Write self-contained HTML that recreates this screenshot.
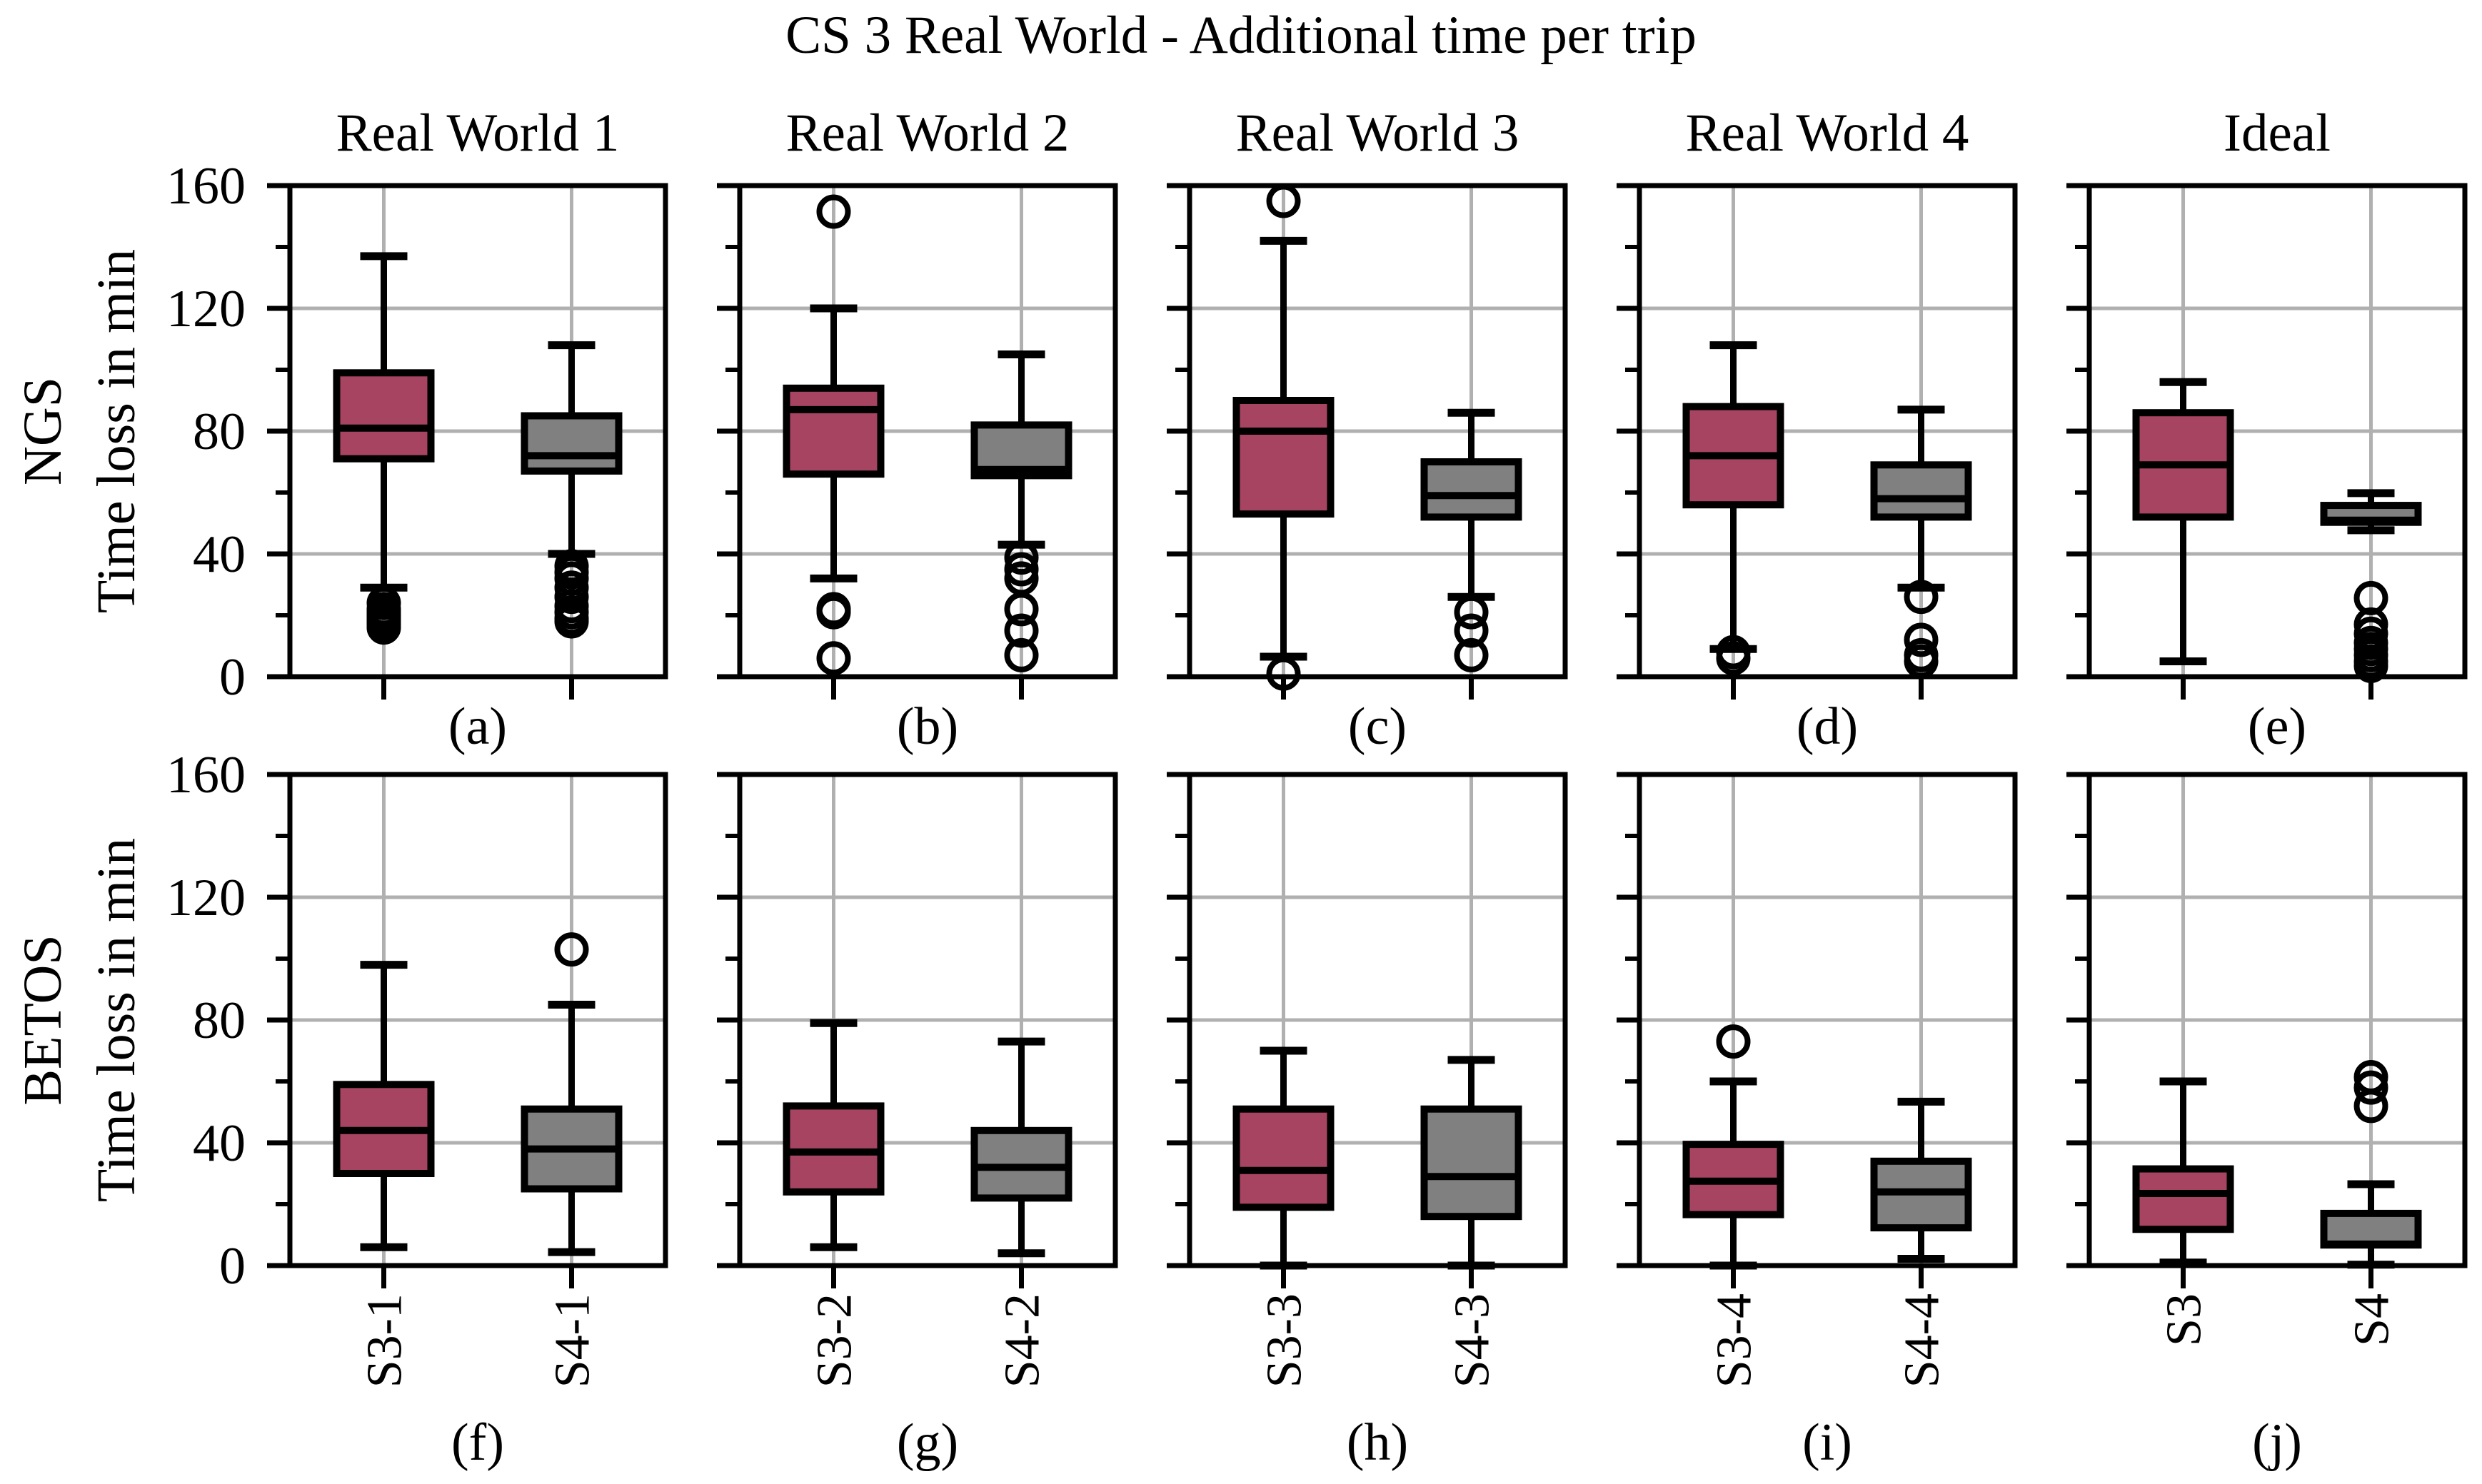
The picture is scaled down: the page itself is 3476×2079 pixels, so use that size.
<!DOCTYPE html>
<html><head><meta charset="utf-8"><style>
html,body{margin:0;padding:0;background:#fff;}
svg{display:block;font-family:"Liberation Serif",serif;}
</style></head><body>
<svg id="chart" width="3476" height="2079" viewBox="0 0 3476 2079" xmlns="http://www.w3.org/2000/svg">
<rect width="3476" height="2079" fill="#fff"/>
<text x="1738" y="74" font-size="75" text-anchor="middle">CS 3 Real World - Additional time per trip</text>
</svg>
<script>
const colTitles = ["Real World 1","Real World 2","Real World 3","Real World 4","Ideal"];
const rowNames = ["NGS","BETOS"];
const catLabels = [["S3-1","S4-1"],["S3-2","S4-2"],["S3-3","S4-3"],["S3-4","S4-4"],["S3","S4"]];
const panelLetters = [["(a)","(b)","(c)","(d)","(e)"],["(f)","(g)","(h)","(i)","(j)"]];
const yTicks = [0,40,80,120,160];
const yMinor = [20,60,100,140];
// each box: [whiskerHigh, q3, median, q1, whiskerLow]
const ngsS3 = [[137,99,81,71,29],[120,94,87,66,32],[142,90,80,53,6.5],[108,88,72,56,9],[96,86,69,52,5]];
const ngsS4 = [[108,85,72,67,40],[105,82,67.5,65.5,43],[86,70,59,52,26],[87,69,58,52,29],[59.8,55.8,51,50.3,47.7]];
const betosS3 = [[98,59,44,30,6],[79,52,37,24,6],[70,51,31,19,0],[60,39.5,27.5,16.6,0],[60,31.5,23.5,11.8,1]];
const betosS4 = [[85,51,38,25,4.4],[73,44,32,22,4],[67,51,29,16,0],[53.4,34,24,12.3,2.2],[26.5,17,7,6.7,0.3]];
const ngsS3Fliers = [[24,22,21,20,19,18,17,16],[151.5,22,21,6],[155,1],[8,6],[]];
const ngsS4Fliers = [[36,34,32,29,26,23,21,19,18],[38.8,35,32,22,15,7],[21,15,7],[26,12,7,5],[25.6,17,14,11,9,7,5,3.5]];
const betosS3Fliers = [[],[],[],[73],[]];
const betosS4Fliers = [[103],[],[],[],[61.4,58,52]];

const NS="http://www.w3.org/2000/svg";
const svg=document.getElementById('chart');
const colX0 = 406, colPitch = 630, pW = 526;
const rowTop = [260,1085], pH = 688;
const colors = ["#a64462","#808080"];
function mk(tag,attrs,parent){const e=document.createElementNS(NS,tag);for(const k in attrs)e.setAttribute(k,attrs[k]);(parent||svg).appendChild(e);return e;}
function yScale(r,v){return rowTop[r]+pH-(v/160)*pH;}
function xScale(c,pos){return colX0+c*colPitch+(pos-0.5)/2*pW;}

for(let c=0;c<5;c++){
  const t=mk('text',{x:colX0+c*colPitch+pW/2,y:211,'font-size':75,'text-anchor':'middle'});
  
  
  t.textContent=colTitles[c];
}
for(let r=0;r<2;r++){
  const cy=rowTop[r]+pH/2;
  const g=mk('text',{x:0,y:0,'font-size':76,'text-anchor':'middle',transform:`translate(85,${cy}) rotate(-90)`});
  
  
  g.textContent=rowNames[r];
  const g2=mk('text',{x:0,y:0,'font-size':76,'text-anchor':'middle',transform:`translate(188,${cy}) rotate(-90)`});
  
  
  g2.textContent='Time loss in min';
}
const allData=[[ngsS3,ngsS4,ngsS3Fliers,ngsS4Fliers],[betosS3,betosS4,betosS3Fliers,betosS4Fliers]];
for(let r=0;r<2;r++){
  for(let c=0;c<5;c++){
    const x0=colX0+c*colPitch, y0=rowTop[r];
    const grp=mk('g',{});
    
    
    yTicks.forEach(v=>{ if(v>0&&v<160){const l=mk('line',{x1:x0,x2:x0+pW,y1:yScale(r,v),y2:yScale(r,v),stroke:'#b0b0b0','stroke-width':5},grp);
      
      }});
    [1,2].forEach(p=>{const l=mk('line',{x1:xScale(c,p),x2:xScale(c,p),y1:y0,y2:y0+pH,stroke:'#b0b0b0','stroke-width':5},grp);
      
      });
    yTicks.forEach(v=>{mk('line',{x1:x0-32,x2:x0,y1:yScale(r,v),y2:yScale(r,v),stroke:'#000','stroke-width':7},grp);
      if(c===0){const t=mk('text',{x:x0-62,y:yScale(r,v)+25,'font-size':74,'text-anchor':'end'},grp);
        
        
        t.textContent=v;}});
    yMinor.forEach(v=>mk('line',{x1:x0-20,x2:x0,y1:yScale(r,v),y2:yScale(r,v),stroke:'#000','stroke-width':6},grp));
    [1,2].forEach(p=>mk('line',{x1:xScale(c,p),x2:xScale(c,p),y1:y0+pH,y2:y0+pH+32,stroke:'#000','stroke-width':7},grp));
    const d=allData[r];
    [0,1].forEach(s=>{
      const b=d[s][c], fl=d[s+2][c], cx=xScale(c,s+1), bw=132, cw=66;
      const bg=mk('g',{},grp);
      
      
      mk('line',{x1:cx,x2:cx,y1:yScale(r,b[0]),y2:yScale(r,b[1]),stroke:'#000','stroke-width':9},bg);
      mk('line',{x1:cx,x2:cx,y1:yScale(r,b[3]),y2:yScale(r,b[4]),stroke:'#000','stroke-width':9},bg);
      mk('line',{x1:cx-cw/2,x2:cx+cw/2,y1:yScale(r,b[0]),y2:yScale(r,b[0]),stroke:'#000','stroke-width':11},bg);
      mk('line',{x1:cx-cw/2,x2:cx+cw/2,y1:yScale(r,b[4]),y2:yScale(r,b[4]),stroke:'#000','stroke-width':11},bg);
      mk('rect',{x:cx-bw/2,y:yScale(r,b[1]),width:bw,height:Math.max(1,yScale(r,b[3])-yScale(r,b[1])),fill:colors[s],stroke:'#000','stroke-width':10},bg);
      mk('line',{x1:cx-bw/2,x2:cx+bw/2,y1:yScale(r,b[2]),y2:yScale(r,b[2]),stroke:'#000','stroke-width':10},bg);
      fl.forEach(v=>{const ci=mk('circle',{cx:cx,cy:yScale(r,v),r:20,fill:'none',stroke:'#000','stroke-width':8},bg);
        
        });
      if(r===1){
        const t=mk('text',{x:0,y:0,'font-size':70,'text-anchor':'end',transform:`translate(${cx+24},1812) rotate(-90)`},grp);
        
        
        t.textContent=catLabels[c][s];
      }
    });
    mk('rect',{x:x0,y:y0,width:pW,height:pH,fill:'none',stroke:'#000','stroke-width':7},grp);
    const lt=mk('text',{x:x0+pW/2,y:r===0?1042:2045,'font-size':74,'text-anchor':'middle'},grp);
    
    
    lt.textContent=panelLetters[r][c];
  }
}
</script>
</body></html>
